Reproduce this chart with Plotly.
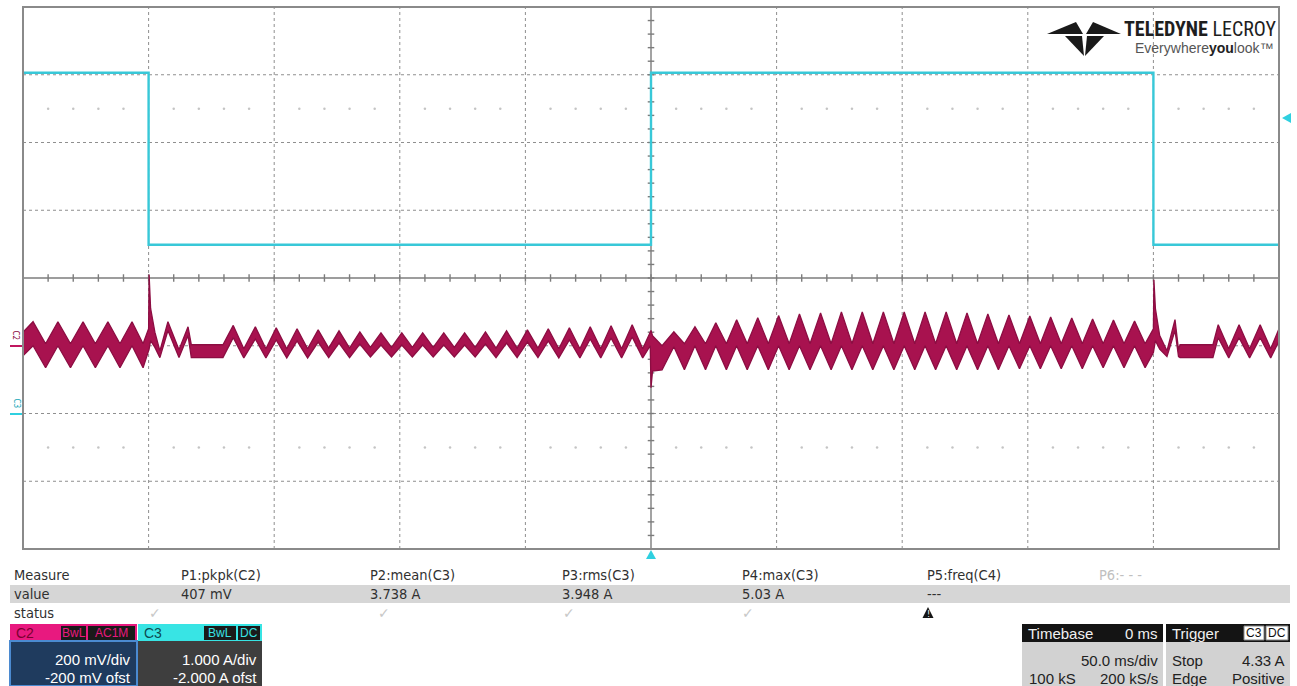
import plotly.graph_objects as go

W, H = 1297, 686
PX0, PX1, PY0, PY1 = 23, 1279, 7, 549  # plot frame (pixels)

# ---------------- acquisition settings ----------------
T_RANGE_MS = [-250.0, 250.0]          # 50 ms/div, 10 div
C2_SCALE_MV, C2_OFST_MV = 200.0, -200.0
C3_SCALE_A, C3_OFST_A = 1.0, -2.0
TRIG_LEVEL_A = 4.33

# ---------------- C3 : current (A) ----------------
c3_t = [-250.0, -200.0, -200.0, 0.0, 0.0, 200.0, 200.0, 250.0]
c3_i = [5.03, 5.03, 2.49, 2.49, 5.03, 5.03, 2.49, 2.49]

# ---------------- C2 : ripple voltage band (mV) ----------------
c2_t = [-250.0, -246.0, -241.0, -236.1, -231.1, -226.1, -221.2, -216.2, -211.4, -206.6,
        -202.2, -200.0, -199.8, -199.2, -197.5, -195.5, -192.3, -187.9,
        -184.3, -183.0, -170.4, -166.3, -162.1, -157.5, -153.3, -149.2, -145.0, -140.9,
        -136.7, -132.5, -128.3, -124.2, -120.0, -115.9, -111.7, -107.5, -103.3, -99.2,
        -95.0, -90.9, -86.7, -82.5, -78.3, -74.2, -70.0, -65.9, -61.7, -57.5,
        -53.3, -49.2, -45.0, -40.9, -36.7, -32.5, -28.3, -24.2, -20.0, -15.9,
        -11.7, -7.5, -3.3, -0.3, 0.0, 0.6, 4.4, 9.1, 13.3, 17.5,
        21.7, 25.8, 30.0, 34.1, 38.3, 42.5, 46.7, 50.8, 55.0, 59.1,
        63.3, 67.5, 71.7, 75.8, 80.0, 84.1, 88.3, 92.5, 96.7, 100.8,
        105.0, 109.1, 113.3, 117.5, 121.7, 125.8, 130.0, 134.1, 138.3, 142.5,
        146.7, 150.8, 155.0, 159.1, 163.3, 167.5, 171.7, 175.8, 180.0, 184.1,
        188.3, 192.5, 196.7, 200.0, 200.2, 200.8, 202.5, 205.4, 208.6, 210.0,
        210.6, 223.7, 225.8, 230.0, 234.1, 238.3, 242.5, 246.7, 250.0]
c2_hi = [40, 71, 6, 71, 6, 71, 6, 71, 6, 71,
         6, 50, 210, 110, 40, -15, 71, -12,
         56, 3, 3, 60, -9, 56, -9, 53, -9, 50,
         -9, 47, -7, 44, -7, 41, -5, 38, -5, 38,
         -5, 38, -5, 38, -5, 38, -5, 41, -7, 44,
         -7, 47, -7, 50, -9, 53, -9, 56, -9, 59,
         -9, 62, -9, 40, 45, 30, 0, 41, 6, 56,
         6, 68, 6, 77, 6, 83, 6, 89, 6, 94,
         6, 97, 6, 100, 6, 100, 6, 100, 6, 100,
         6, 100, 6, 100, 6, 97, 6, 94, 6, 91,
         6, 88, 6, 85, 6, 82, 6, 79, 6, 76,
         6, 73, 6, 50, 195, 110, 30, -15, 77, -12,
         3, 3, 62, -9, 62, -9, 62, -9, 50]
c2_lo = [-30, 0, -65, 0, -65, 0, -65, 0, -65, 0,
         -65, -20, -10, 15, -5, -35, 45, -35,
         30, -35, -35, 24, -36, 20, -36, 17, -36, 14,
         -36, 11, -35, 8, -35, 5, -33, 2, -33, 2,
         -33, 2, -33, 2, -33, 2, -33, 5, -35, 8,
         -35, 11, -35, 14, -36, 17, -36, 20, -36, 23,
         -36, 26, -36, 0, -124, -75, -71, -3, -71, 0,
         -71, 0, -71, 0, -71, 0, -71, 0, -71, 0,
         -71, 0, -71, 0, -71, 0, -71, 0, -71, 0,
         -71, 0, -71, 0, -71, 0, -71, 0, -71, 0,
         -68, 0, -68, 0, -68, 0, -68, 0, -65, 0,
         -65, 0, -65, -20, -10, 15, -10, -32, 45, -32,
         -35, -35, 24, -36, 24, -36, 24, -36, 14]

# ---------------- measurement table / labels ----------------
meas_names = ["P1:pkpk(C2)", "P2:mean(C3)", "P3:rms(C3)", "P4:max(C3)", "P5:freq(C4)", "P6:- - -"]
meas_values = ["407 mV", "3.738 A", "3.948 A", "5.03 A", "---", ""]
meas_status = ["ok", "ok", "ok", "ok", "warn", ""]

C2_COLOR = "#a8124f"
C2_EDGE = "#8c0d42"
C3_COLOR = "#38c8d8"


def to_div_c2(v):
    return [(x + C2_OFST_MV) / C2_SCALE_MV for x in v]


def to_div_c3(v):
    return [(x + C3_OFST_A) / C3_SCALE_A for x in v]


def fx(px):
    return px / W


def fy(py):
    return 1 - py / H


fig = go.Figure()

# grid and axes (drawn in data units of divisions / ms)
grid_t = [-200, -150, -100, -50, 50, 100, 150, 200]
grid_y = [-3, -2, -1, 1, 2, 3]
shapes = []
for t in grid_t:
    shapes.append(dict(type="line", xref="x", yref="y", x0=t, x1=t, y0=-4, y1=4,
                       line=dict(color="#8f8f8f", width=1, dash="dot"), layer="below"))
for yv in grid_y:
    shapes.append(dict(type="line", xref="x", yref="y", x0=-250, x1=250, y0=yv, y1=yv,
                       line=dict(color="#8f8f8f", width=1, dash="dot"), layer="below"))

# center axes with minor ticks
tx, ty = [], []
tx += [-250, 250, None]
ty += [0, 0, None]
tx += [0, 0, None]
ty += [-4, 4, None]
for k in range(-24, 25):
    t = k * 10
    tx += [t, t, None]
    ty += [-0.055, 0.055, None]
for k in range(-19, 20):
    yv = k * 0.2
    tx += [-1.3, 1.3, None]
    ty += [yv, yv, None]
fig.add_trace(go.Scatter(x=tx, y=ty, mode="lines", line=dict(color="#7c7c7c", width=1.4),
                         hoverinfo="skip", showlegend=False))

# faint dot rows
dx, dy = [], []
for k in range(-24, 25):
    if k % 5 != 0:
        for yv in (2.5, -2.5):
            dx.append(k * 10)
            dy.append(yv)
fig.add_trace(go.Scatter(x=dx, y=dy, mode="markers", marker=dict(size=2.5, color="#c4c4c4"),
                         hoverinfo="skip", showlegend=False))

# C3 trace
fig.add_trace(go.Scatter(x=c3_t, y=to_div_c3(c3_i), mode="lines",
                         line=dict(color=C3_COLOR, width=2.4), hoverinfo="skip", showlegend=False))

# C2 band
fig.add_trace(go.Scatter(x=c2_t, y=to_div_c2(c2_lo), mode="lines",
                         line=dict(color=C2_EDGE, width=1.3), hoverinfo="skip", showlegend=False))
fig.add_trace(go.Scatter(x=c2_t, y=to_div_c2(c2_hi), mode="lines", fill="tonexty",
                         fillcolor=C2_COLOR, line=dict(color=C2_EDGE, width=1.3),
                         hoverinfo="skip", showlegend=False))

# frame
shapes.append(dict(type="rect", xref="paper", yref="paper", x0=fx(PX0), x1=fx(PX1), y0=fy(PY1), y1=fy(PY0),
                   line=dict(color="#8a8a8a", width=2)))


def poly(pts, color="#1a1a1a"):
    p = "M " + " L ".join("{} {}".format(fx(a), fy(b)) for a, b in pts) + " Z"
    shapes.append(dict(type="path", xref="paper", yref="paper", path=p, fillcolor=color, line=dict(width=0)))


# trigger markers
poly([(1282, 118), (1291, 113), (1291, 123)], "#2fd0e0")
poly([(651, 550), (646, 559), (656, 559)], "#2fd0e0")
# channel ground markers
shapes.append(dict(type="line", xref="paper", yref="paper", x0=fx(10), x1=fx(22), y0=fy(346), y1=fy(346),
                   line=dict(color="#c0175f", width=2)))
shapes.append(dict(type="line", xref="paper", yref="paper", x0=fx(10), x1=fx(22), y0=fy(414), y1=fy(414),
                   line=dict(color="#2fd0e0", width=2)))

# Teledyne logo symbol
poly([(1047, 34), (1076, 22), (1083, 34)])
poly([(1121, 34), (1093, 22), (1086, 34)])
poly([(1065, 36), (1082, 36), (1084, 56)])
poly([(1104, 36), (1087, 36), (1085, 56)])

annotations = []


def txt(x, y, s, size=13, color="#303030", anchor="left", family="DejaVu Sans Condensed, Liberation Sans Narrow, sans-serif", **kw):
    annotations.append(dict(x=fx(x), y=fy(y), xref="paper", yref="paper", text=s, showarrow=False,
                            xanchor=anchor, yanchor="middle", font=dict(size=size, color=color, family=family), **kw))


LOGO_FONT = "Liberation Sans Narrow, Roboto Condensed, Liberation Sans, sans-serif"
txt(1278, 29, "<b>TELEDYNE</b> LECROY", size=20, color="#1e1e1e", anchor="right", family=LOGO_FONT)
txt(1276, 48.5, "Everywhere<b><span style='color:#222'>you</span></b>look™", size=14, color="#555",
    anchor="right", family="Liberation Sans, Arial, sans-serif")

txt(9, 335, "C2", size=8, color="#8c0d42", anchor="left", textangle=90)
txt(9, 403, "C3", size=8, color="#1aa8b8", anchor="left", textangle=90)

# measurement table
TABLE_FONT = "DejaVu Sans Condensed, Liberation Sans Narrow, sans-serif"
shapes.append(dict(type="rect", xref="paper", yref="paper", x0=fx(10), x1=fx(1290), y0=fy(603), y1=fy(585),
                   fillcolor="#d6d6d6", line=dict(width=0), layer="below"))
col_x = [179, 368, 560, 740, 925, 1097]
check_x = [155, 384, 569, 748, 928]
txt(12, 575, "Measure", size=14.5, family=TABLE_FONT)
txt(12, 594, "value", size=14.5, family=TABLE_FONT)
txt(12, 613, "status", size=14.5, family=TABLE_FONT)
for i, name in enumerate(meas_names):
    txt(col_x[i], 575, name, size=14.5, family=TABLE_FONT,
        color="#c0c0c0" if name.startswith("P6") else "#303030")
    if meas_values[i]:
        txt(col_x[i], 594, meas_values[i], size=14.5, family=TABLE_FONT)
for i, st in enumerate(meas_status):
    if st == "ok":
        txt(check_x[i], 613, "✓", size=14, color="#c8c8c8", anchor="center", family="DejaVu Sans")
    elif st == "warn":
        cx = check_x[i]
        poly([(cx, 607), (cx - 5.5, 618), (cx + 5.5, 618)], "#151515")
        txt(cx, 614, "!", size=8, color="#ffffff", anchor="center", family="DejaVu Sans")

BOX_FONT = "Liberation Sans Narrow, Liberation Sans, Arial, sans-serif"


def rect(x0, y0, x1, y1, fill, line_color=None, lw=0):
    shapes.append(dict(type="rect", xref="paper", yref="paper", x0=fx(x0), x1=fx(x1), y0=fy(y1), y1=fy(y0),
                       fillcolor=fill, line=dict(color=line_color or fill, width=lw)))


# C2 box
rect(10, 624, 137, 641, "#e8197f")
rect(10, 641, 137, 686, "#1f3b5e", "#4b8ad0", 2)
rect(61, 626, 86, 640, "#1a1a1a")
rect(88, 626, 135, 640, "#1a1a1a")
txt(14, 633, "C2", size=14, color="#7a0030", family=BOX_FONT)
txt(73.5, 633, "BwL", size=12, color="#e8197f", anchor="center", family=BOX_FONT)
txt(111.5, 633, "AC1M", size=12, color="#e8197f", anchor="center", family=BOX_FONT)
txt(133, 659, "200 mV/div", size=15, color="#ffffff", anchor="right", family=BOX_FONT)
txt(133, 677, "-200 mV ofst", size=15, color="#ffffff", anchor="right", family=BOX_FONT)

# C3 box
rect(138, 624, 262, 641, "#38e4e4")
rect(138, 641, 262, 686, "#3e3e3e")
rect(204, 626, 236, 640, "#1a1a1a")
rect(238, 626, 260, 640, "#1a1a1a")
txt(142, 633, "C3", size=14, color="#0c4b52", family=BOX_FONT)
txt(220, 633, "BwL", size=12, color="#38e4e4", anchor="center", family=BOX_FONT)
txt(249, 633, "DC", size=12, color="#38e4e4", anchor="center", family=BOX_FONT)
txt(259, 659, "1.000 A/div", size=15, color="#ffffff", anchor="right", family=BOX_FONT)
txt(259, 677, "-2.000 A ofst", size=15, color="#ffffff", anchor="right", family=BOX_FONT)

# Timebase box
rect(1022, 624, 1163, 642, "#141414")
rect(1022, 642, 1163, 686, "#d2d2d2")
txt(1026, 633, "Timebase", size=15, color="#f0f0f0", family=BOX_FONT)
txt(1160, 633, "0 ms", size=15, color="#f0f0f0", anchor="right", family=BOX_FONT)
txt(1160, 660, "50.0 ms/div", size=15, color="#222", anchor="right", family=BOX_FONT)
txt(1027, 678, "100 kS", size=15, color="#222", family=BOX_FONT)
txt(1160, 678, "200 kS/s", size=15, color="#222", anchor="right", family=BOX_FONT)

# Trigger box
rect(1166, 624, 1290, 642, "#141414")
rect(1166, 642, 1290, 686, "#d2d2d2")
rect(1244, 626, 1264, 640, "#ffffff", "#888", 1)
rect(1266, 626, 1288, 640, "#ffffff", "#888", 1)
txt(1170, 633, "Trigger", size=15, color="#f0f0f0", family=BOX_FONT)
txt(1254, 633, "C3", size=12, color="#111", anchor="center", family=BOX_FONT)
txt(1277, 633, "DC", size=12, color="#111", anchor="center", family=BOX_FONT)
txt(1170, 660, "Stop", size=15, color="#222", family=BOX_FONT)
txt(1287, 660, "{:.2f} A".format(TRIG_LEVEL_A), size=15, color="#222", anchor="right", family=BOX_FONT)
txt(1170, 678, "Edge", size=15, color="#222", family=BOX_FONT)
txt(1287, 678, "Positive", size=15, color="#222", anchor="right", family=BOX_FONT)

fig.update_layout(
    width=W, height=H, margin=dict(l=0, r=0, t=0, b=0),
    paper_bgcolor="#ffffff", plot_bgcolor="#ffffff",
    xaxis=dict(domain=[PX0 / W, PX1 / W], range=T_RANGE_MS, visible=False, fixedrange=True),
    yaxis=dict(domain=[1 - PY1 / H, 1 - PY0 / H], range=[-4, 4], visible=False, fixedrange=True),
    shapes=shapes, annotations=annotations, showlegend=False,
)

fig.write_html("out.html", config={"displayModeBar": False, "staticPlot": True},
               post_script="document.body.style.margin='0';document.body.style.overflow='hidden';")
